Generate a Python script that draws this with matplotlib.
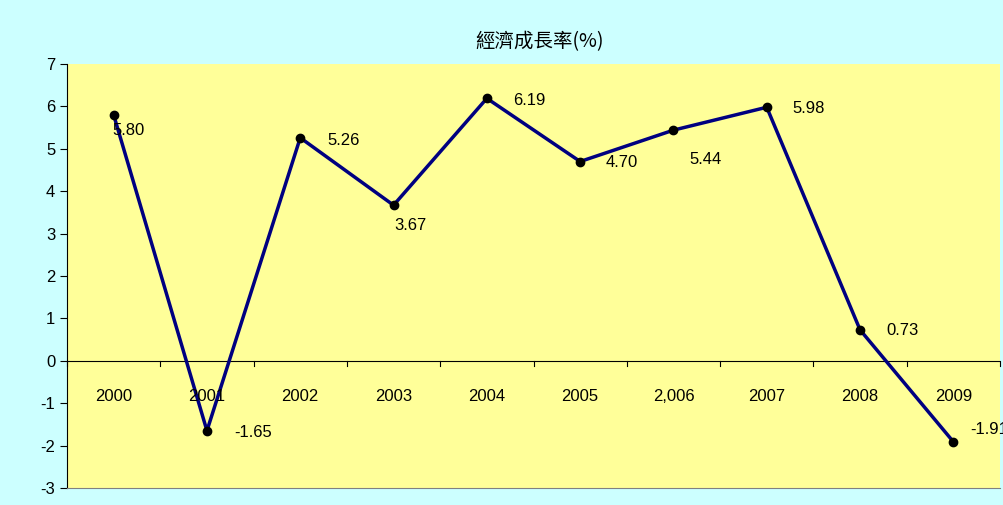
import matplotlib
matplotlib.use("Agg")
import matplotlib.pyplot as plt
import numpy as np

years = ['2000', '2001', '2002', '2003', '2004', '2005', '2,006', '2007', '2008', '2009']
growth = [5.80, -1.65, 5.26, 3.67, 6.19, 4.70, 5.44, 5.98, 0.73, -1.91]
# label offsets in pixels (dx, dy)
label_offsets = [(15, -16), (46, -2), (43, -3), (17, -20), (42, -2),
                 (42, -1), (32, -29), (42, -1), (42, -1), (36, 12)]

plt.rcParams['font.family'] = ['Liberation Sans', 'Noto Sans CJK TC']
plt.rcParams['axes.unicode_minus'] = False

fig = plt.figure(figsize=(10.04, 5.05), dpi=100)
fig.patch.set_facecolor('#CCFFFF')
ax = fig.add_axes([67/1004, 1-488/505, 933/1004, 424/505])
ax.set_facecolor('#FFFF99')

x = np.arange(len(years))
ax.plot(x, growth, color='#000080', lw=2.5, marker='o', ms=6,
        mfc='black', mec='black', zorder=3)
for xi, v, (dx, dy) in zip(x, growth, label_offsets):
    ax.annotate(f'{v:.2f}', (xi, v), xytext=(dx * 0.72, dy * 0.72),
                textcoords='offset points', ha='center', va='center', fontsize=12)

ax.set_xlim(-0.5, len(years) - 0.5)
ax.set_ylim(-3, 7)
ax.set_yticks(range(-3, 8))
ax.tick_params(axis='y', labelsize=12, direction='out', length=5)
ax.set_xticks([])
ax.axhline(0, color='black', lw=0.8)
for b in np.arange(-0.5, len(years)):
    ax.plot([b, b], [0, -0.12], color='black', lw=0.8, clip_on=False)
for xi, lab in zip(x, years):
    ax.text(xi, -0.85, lab, ha='center', va='center', fontsize=12)

for s in ['top', 'right']:
    ax.spines[s].set_visible(False)
ax.spines['bottom'].set_color('#808080')
ax.spines['left'].set_color('black')

fig.text(540/1004, 1-42/505, '經濟成長率(%)', ha='center', va='center', fontsize=14,
         family=['Noto Sans CJK TC', 'Liberation Sans'])

fig.savefig('out.png', dpi=100, facecolor=fig.get_facecolor())
